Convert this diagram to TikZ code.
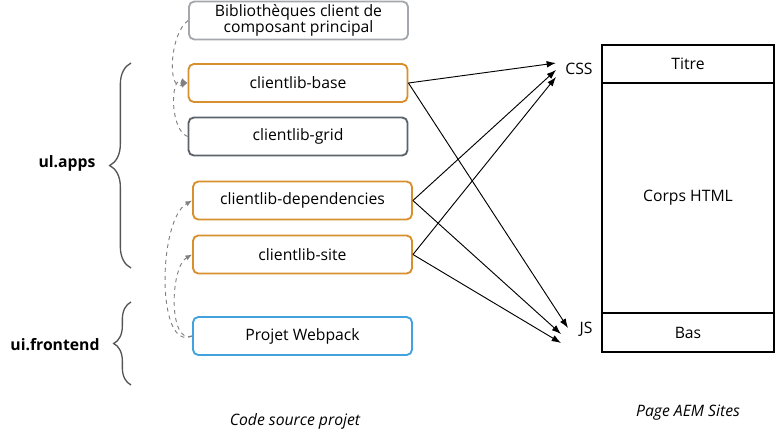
\documentclass[tikz,border=0pt]{standalone}
\usepackage{fontspec}
\setmainfont{Open Sans}
\usetikzlibrary{arrows.meta,decorations.pathreplacing}
\definecolor{orangeC}{HTML}{D8902E}
\definecolor{grayL}{HTML}{A4A8AC}
\definecolor{grayD}{HTML}{5C636A}
\definecolor{blueC}{HTML}{42A2E0}
\definecolor{dashC}{HTML}{808080}
\definecolor{braceC}{HTML}{555555}
\tikzset{
  lib/.style={draw, line width=1.4pt, rounded corners=4pt, minimum width=219*0.75pt, minimum height=38*0.75pt, inner sep=0pt, align=center, font=\fontsize{11.8}{12.4}\selectfont},
  dep/.style={dashC, dashed, line width=0.7pt, -{Latex[length=5pt,width=4pt]}},
  link/.style={black, line width=0.7pt, -{Latex[length=7pt,width=5pt]}},
  lbl/.style={font=\fontsize{11.8}{13}\selectfont, inner sep=0pt},
  pagebox/.style={draw, line width=1.2pt, minimum width=172*0.75pt, inner sep=0pt, font=\fontsize{11.8}{13}\selectfont},
  bracestyle/.style={braceC, line width=1pt, decorate}
}
\begin{document}
\begin{tikzpicture}[x=0.75pt,y=-0.75pt]
\useasboundingbox (0,0) rectangle (778,443);
% boxes
\node[lib, draw=grayL] (bib) at (298.5,20.5) {Bibliothèques client de\\composant principal};
\node[lib, draw=orangeC] (base) at (298,83) {clientlib-base};
\node[lib, draw=grayD] (grid) at (298,136.5) {clientlib-grid};
\node[lib, draw=orangeC] (deps) at (302.5,200.5) {clientlib-dependencies};
\node[lib, draw=orangeC] (site) at (302.5,254.5) {clientlib-site};
\node[lib, draw=blueC] (web) at (302.5,336) {Projet Webpack};
% dashed dependencies
\draw[dep] (bib.west) to[out=215,in=200,looseness=0.9] (base.west);
\draw[dep] (grid.west) to[out=160,in=160,looseness=0.9] (base.west);
\draw[dep] (web.west) to[out=205,in=210,looseness=0.75] (deps.west);
\draw[dep] (web.west) to[out=200,in=210,looseness=0.8] (site.west);
% braces
\draw[bracestyle, decoration={brace, amplitude=16pt}] (131,268) -- (131,63);
\draw[bracestyle, decoration={brace, amplitude=13pt}] (131,385) -- (131,302);
\node[lbl, font=\fontsize{11.8}{13}\selectfont\bfseries] (uiapps) at (67,163) {ul.apps};
\node[lbl, font=\fontsize{11.8}{13}\selectfont\bfseries] (uifront) at (55,345) {ui.frontend};
% page
\node[pagebox, minimum height=38*0.75pt] (titre) at (688,64) {Titre};
\node[pagebox, minimum height=230*0.75pt] (corps) at (688,198) {Corps HTML};
\node[pagebox, minimum height=39*0.75pt] (bas) at (688,332.5) {Bas};
\node[lbl] (css) at (579,69) {CSS};
\node[lbl] (js) at (586,329) {JS};
% arrow targets
\coordinate (c1) at (556,63);
\coordinate (c2) at (556,70);
\coordinate (c3) at (556,77);
\coordinate (j1) at (568,328);
\coordinate (j2) at (561,334);
\coordinate (j3) at (561,343);
\draw[link] (base.east) -- (c1);
\draw[link] (base.east) -- (j1);
\draw[link] (deps.east) -- (c2);
\draw[link] (deps.east) -- (j2);
\draw[link] (site.east) -- (c3);
\draw[link] (site.east) -- (j3);
% captions
\node[lbl, font=\fontsize{11.8}{13}\selectfont\itshape] (cap1) at (295,421) {Code source projet};
\node[lbl, font=\fontsize{11.8}{13}\selectfont\itshape] (cap2) at (688,413) {Page AEM Sites};
\end{tikzpicture}
\end{document}
